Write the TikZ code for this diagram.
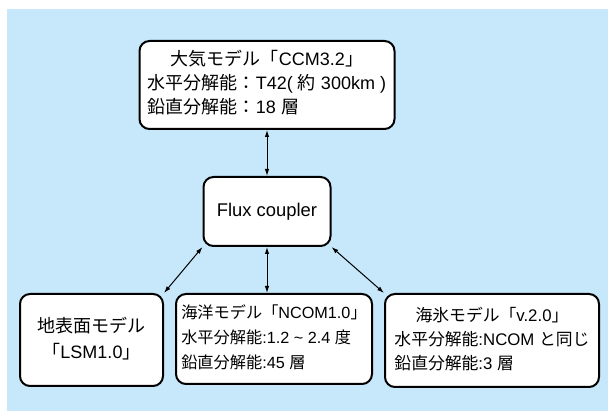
\documentclass[tikz,border=0pt]{standalone}
\usepackage{fontspec}
\setmainfont{Liberation Sans}
\newfontfamily\jpfont{Noto Sans CJK JP}
\usetikzlibrary{arrows.meta}
\definecolor{skyback}{RGB}{198,232,250}
\newcommand{\jp}[1]{{\jpfont #1}}

\begin{document}
\begin{tikzpicture}
		[x=1pt,y=-1pt,
		box/.style={draw,line width=2pt,rounded corners=10pt,fill=white,inner sep=0pt},
		link/.style={{Latex[length=7pt,width=4.5pt]}-{Latex[length=7pt,width=4.5pt]},line width=1pt}]
		\useasboundingbox (0,0) rectangle (608,411);
		\fill[skyback] (7,9) rectangle (608,411);
		%% atmosphere on top
		\node[box,minimum width=255pt,minimum height=88pt,font=\fontsize{18}{24}\selectfont] (atm) at (267,85)
		{\begin{tabular}{@{}l@{}}
			\multicolumn{1}{@{}c@{}}{\jp{大気モデル「}CCM3.2\jp{」}}\\
			\jp{水平分解能：}T42( \jp{約} 300km )\\
			\jp{鉛直分解能：}18 \jp{層}
		\end{tabular}};
		\node[box,minimum width=127pt,minimum height=69pt,font=\fontsize{18.4}{24}\selectfont] (flux) at (267,211.5) {Flux coupler};
		%% three models below
		\node[box,minimum width=143pt,minimum height=92pt,font=\fontsize{18}{26}\selectfont] (land) at (91.5,340)
		{\begin{tabular}{@{}c@{}}
			\jp{地表面モデル}\\
			\jp{「}LSM1.0\jp{」}
		\end{tabular}};
		\node[box,minimum width=196pt,minimum height=90pt,font=\fontsize{16.2}{25}\selectfont] (ocean) at (274,339)
		{\begin{tabular}{@{}l@{}}
			\jp{海洋モデル「}NCOM1.0\jp{」}\\
			\jp{水平分解能}:1.2 \textasciitilde{} 2.4 \jp{度}\\
			\jp{鉛直分解能}:45 \jp{層}
		\end{tabular}};
		\node[box,minimum width=214pt,minimum height=93pt,font=\fontsize{16.8}{24}\selectfont] (ice) at (492,340.5)
		{\begin{tabular}{@{}l@{}}
			\multicolumn{1}{@{}c@{}}{\jp{海氷モデル「}v.2.0\jp{」}}\\
			\jp{水平分解能}:NCOM \jp{と同じ}\\
			\jp{鉛直分解能}:3 \jp{層}
		\end{tabular}};
		\coordinate (oceantop) at (flux.south |- ocean.north);
		\path
		\foreach \startNode/\endNode in {atm.south/flux.north, flux.south west/land.north east, flux.south/oceantop, flux.south east/ice.north west}
		{
			(\startNode) edge[link] (\endNode)
		};
\end{tikzpicture}
\end{document}
